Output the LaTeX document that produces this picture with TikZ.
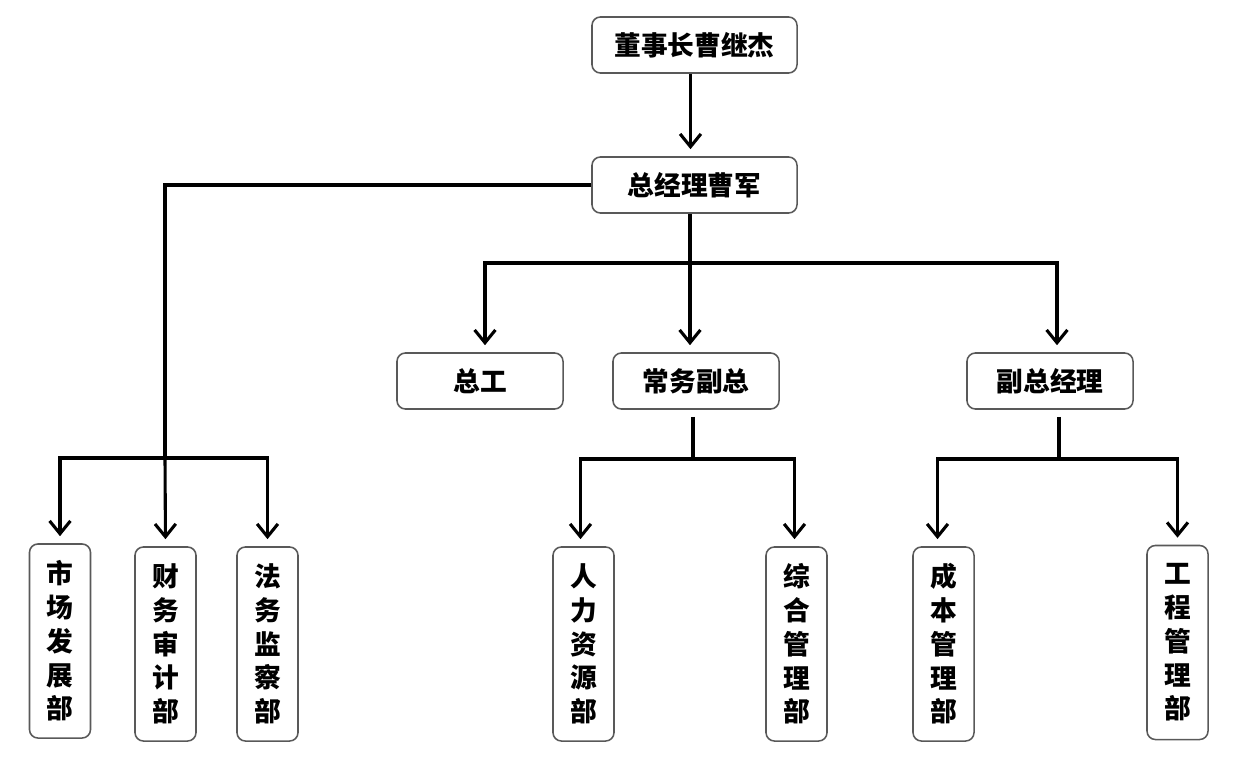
\documentclass[tikz,border=0pt]{standalone}
\usepackage{fontspec}
\setmainfont{Noto Sans CJK SC}
\usepackage{xcolor}
\definecolor{cLine}{HTML}{000000}
\definecolor{cBorder}{HTML}{595959}
\usetikzlibrary{positioning,arrows.meta}
\tikzset{
  node-box/.style={draw=cBorder,line width=1.1pt,rounded corners=6pt,
    minimum height=1.4cm,align=center,
    font=\fontsize{19}{24}\selectfont\bfseries},
  node-wide/.style={node-box,minimum width=5.125cm},
  node-mid/.style={node-box,minimum width=4.15cm},
  node-col/.style={node-box,minimum width=1.525cm,minimum height=4.85cm,
    inner sep=0pt},
  link/.style={line width=2.2pt,draw=cLine},
  arrow/.style={link,-{Straight Barb[length=3.2mm,width=5.2mm,line width=2.2pt]},
    shorten >=5pt},
}
\begin{document}
\begin{tikzpicture}[x=0.025cm,y=-0.025cm]
  \useasboundingbox (0,0) rectangle (1246,773);
  % 第一、二层
  \node[node-wide] (chair) at (694.5,45) {董事长曹继杰};
  \node[node-wide] (gm) at (694.5,185) {总经理曹军};
  % 第三层
  \node[node-mid] (zg) at (480,381) {总工};
  \node[node-mid] (cwfz) at (696,381) {常务副总};
  \node[node-mid] (fzjl) at (1050,381) {副总经理};
  % 各部门
  \node[node-col] (scfz) at (60,641) {市\\场\\发\\展\\部};
  \node[node-col] (cwsj) at (165.5,644) {财\\务\\审\\计\\部};
  \node[node-col] (fwjc) at (267.5,644) {法\\务\\监\\察\\部};
  \node[node-col] (rlzy) at (583.5,644) {人\\力\\资\\源\\部};
  \node[node-col] (zhgl) at (796.5,644) {综\\合\\管\\理\\部};
  \node[node-col] (cbgl) at (943.5,644) {成\\本\\管\\理\\部};
  \node[node-col] (gcgl) at (1177.5,642.5) {工\\程\\管\\理\\部};
  % 汇流点
  \coordinate (lbus) at (165,458);
  \coordinate (mbus) at (690,263);
  \coordinate (cbus) at (693,459);
  \coordinate (fbus) at (1059,459);
  % 连线
  \draw[arrow] (chair.south -| gm) ++(-4,0) -- ([xshift=-4*0.025cm]gm.north);
  \draw[link] (gm.west) -| (lbus);
  \draw[arrow] (lbus) -| (scfz.north);
  \draw[arrow] (lbus) -- (cwsj.north);
  \draw[arrow] (lbus) -| (fwjc.north);
  \draw[link] (gm.south -| mbus) -- (mbus);
  \draw[arrow] (mbus) -| ([xshift=5*0.025cm]zg.north);
  \draw[arrow] (mbus) -- (cwfz.north -| mbus);
  \draw[arrow] (mbus) -| ([xshift=7*0.025cm]fzjl.north);
  \draw[link,shorten <=5pt] (cwfz.south -| cbus) -- (cbus);
  \draw[arrow] (cbus) -| ([xshift=-3*0.025cm]rlzy.north);
  \draw[arrow] (cbus) -| ([xshift=-2*0.025cm]zhgl.north);
  \draw[link,shorten <=5pt] (fzjl.south -| fbus) -- (fbus);
  \draw[arrow] (fbus) -| ([xshift=-6*0.025cm]cbgl.north);
  \draw[arrow] (fbus) -| (gcgl.north);
\end{tikzpicture}
\end{document}
